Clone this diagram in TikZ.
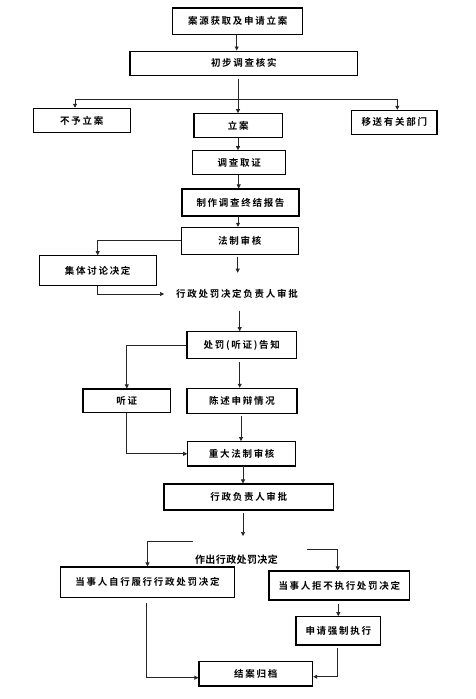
\documentclass[tikz,border=0pt]{standalone}
\usepackage{fontspec}
\newfontfamily\cjk[LetterSpace=18]{Noto Sans CJK SC Bold}
\newfontfamily\cjkt[LetterSpace=4]{Noto Sans CJK SC Bold}
\usetikzlibrary{arrows.meta}
\begin{document}
\begin{tikzpicture}[x=1pt,y=-1pt,
  box/.style={draw=black, line width=1.1pt, inner sep=0pt, font=\cjk\fontsize{9.5}{11}\selectfont},
  lbl/.style={inner sep=1pt, font=\cjk\fontsize{9.5}{11}\selectfont},
  lbltight/.style={inner sep=1pt, font=\cjkt\fontsize{10}{12}\selectfont},
  conn/.style={draw=black!85, line width=0.7pt},
  arr/.style={conn, -{Triangle[length=4pt,width=4pt]}}]
\useasboundingbox (0,0) rectangle (476,699);
\fill[white] (0,0) rectangle (476,699);
\newcommand\bx[6]{\node[box,minimum width=#4pt,minimum height=#5pt] (#1) at (#2,#3) {#6};}
\bx{b1}{237.7}{21.3}{130}{26.7}{案源获取及申请立案}
\bx{b2}{243.8}{63.2}{227.7}{24.3}{初步调查核实}
\bx{b3}{81.7}{120.5}{96.7}{24.4}{不予立案}
\bx{b4}{238.3}{125.7}{88.7}{24}{立案}
\bx{b5}{394.3}{122.2}{85.3}{23.7}{移送有关部门}
\bx{b6}{239.2}{162.7}{93}{24}{调查取证}
\bx{b7}{240.5}{202.5}{117}{27}{制作调查终结报告}
\bx{b8}{239.7}{240.8}{117.3}{27}{法制审核}
\bx{b9}{97.7}{270.5}{117.3}{29.6}{集体讨论决定}
\node[lbl] (t1) at (237,294) {行政处罚决定负责人审批};
\bx{b10}{241.8}{345}{109.7}{26.6}{处罚(听证)告知}
\bx{b11}{126.8}{400.8}{87.7}{23.7}{听证}
\bx{b12}{242}{400.8}{110}{25}{陈述申辩情况}
\bx{b13}{241.7}{453.8}{108}{24.3}{重大法制审核}
\bx{b14}{248.8}{497}{169.7}{26}{行政负责人审批}
\node[lbltight] (t2) at (236.5,559.3) {作出行政处罚决定};
\bx{b15}{147.5}{582.3}{173.6}{30.7}{当事人自行履行行政处罚决定}
\bx{b16}{339.3}{585.5}{140.7}{29}{当事人拒不执行处罚决定}
\bx{b17}{338.3}{630.8}{84.7}{28.3}{申请强制执行}
\bx{b18}{255.8}{673.8}{113.7}{24.3}{结案归档}

% connectors
\draw[arr] (236.7,34.7) coordinate (s1) -- (s1 |- b2.north);
\coordinate (s2) at (238,78.7);
\draw[arr] (s2) -- (s2 |- b4.north);
\coordinate (hL) at (75,99.3);
\coordinate (hR) at (397.3,99.3);
\draw[conn] (hL) -- (hR);
\draw[arr] (hL) -- (hL |- b3.north);
\draw[arr] (hR) -- (hR |- b5.north);
\draw[arr] (b4.south -| s2) -- (s2 |- b6.north);
\coordinate (s3) at (238.7,174.7);
\draw[arr] (s3) -- (s3 |- b7.north);
\coordinate (s4) at (238,216);
\draw[arr] (s4) -- (s4 |- b8.north);
\draw[arr] (b8.west) -| (b9.north);
\coordinate (s5) at (237.7,256.5);
\coordinate (e5) at (237.7,272.7);
\draw[arr] (s5) -- (e5);
\coordinate (e6) at (164,294);
\draw[arr] (b9.south) |- (e6);
\coordinate (s7) at (239.7,310.7);
\draw[arr] (s7) -- (s7 |- b10.north);
\draw[arr] (b10.west) -| (b11.north);
\coordinate (s8) at (239.7,361.7);
\draw[arr] (s8) -- (s8 |- b12.north);
\draw[arr] (b11.south) |- (b13.west);
\coordinate (s9) at (241,416);
\draw[arr] (s9) -- (s9 |- b13.north);
\coordinate (s10) at (243,466);
\draw[arr] (s10) -- (s10 |- b14.north);
\coordinate (s11) at (243,513.3);
\coordinate (e11) at (243,536);
\draw[arr] (s11) -- (e11);
\coordinate (l1) at (192.7,541.3);
\draw[arr] (l1) -| (b15.north);
\coordinate (r1) at (306.7,549);
\coordinate (r2) at (337.7,549);
\draw[arr] (r1) -- (r2) -- (r2 |- b16.north);
\coordinate (s12) at (338.3,604);
\draw[arr] (s12) -- (s12 |- b17.north);
\coordinate (s13) at (146.7,602.7);
\draw[arr] (s13) |- ([yshift=-3.9pt]b18.west);
\coordinate (s14) at (337.3,648.3);
\draw[arr] (s14) |- ([yshift=-2.9pt]b18.east);
\end{tikzpicture}
\end{document}
